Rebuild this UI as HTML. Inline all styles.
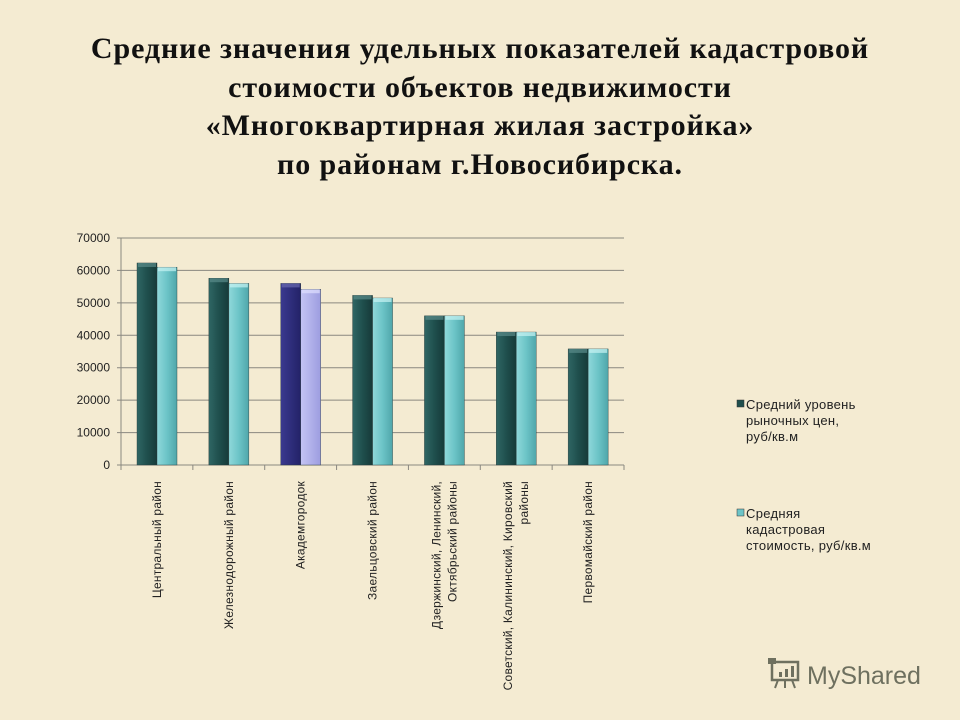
<!DOCTYPE html>
<html><head><meta charset="utf-8"><style>
body{margin:0;width:960px;height:720px;overflow:hidden;background:#f4ebd2;font-family:"Liberation Sans",sans-serif}
#title{position:absolute;left:0;top:30px;width:960px;text-align:center;font-family:"Liberation Serif",serif;font-weight:bold;font-size:30px;letter-spacing:0.9px;line-height:38.5px;color:#111}
svg{position:absolute;left:0;top:0}
</style></head><body>
<div id="title">Средние значения удельных показателей кадастровой<br>стоимости объектов недвижимости<br>«Многоквартирная жилая застройка»<br>по районам г.Новосибирска.</div>
<svg id="chart" width="960" height="720">
<defs>
<linearGradient id="gd" x1="0" x2="1"><stop offset="0" stop-color="#2f6664"/><stop offset="0.5" stop-color="#1f4f4d"/><stop offset="1" stop-color="#163a39"/></linearGradient>
<linearGradient id="gl" x1="0" x2="1"><stop offset="0" stop-color="#8fd8da"/><stop offset="0.5" stop-color="#6cc4c7"/><stop offset="1" stop-color="#4fa6aa"/></linearGradient>
<linearGradient id="gdh" x1="0" x2="1"><stop offset="0" stop-color="#3a3a90"/><stop offset="1" stop-color="#232268"/></linearGradient>
<linearGradient id="glh" x1="0" x2="1"><stop offset="0" stop-color="#c4c4f4"/><stop offset="1" stop-color="#9d9de0"/></linearGradient>
</defs>
<g>
<rect x="772" y="662" width="26" height="18" fill="none" stroke="#6e705f" stroke-width="2.5"/>
<rect x="768" y="658" width="8" height="6" fill="#6e705f"/>
<rect x="779" y="672" width="3" height="5" fill="#6e705f"/><rect x="785" y="669" width="3" height="8" fill="#6e705f"/><rect x="791" y="666" width="3" height="11" fill="#6e705f"/>
<line x1="778" y1="680" x2="775" y2="688" stroke="#6e705f" stroke-width="2"/><line x1="785" y1="680" x2="785" y2="688" stroke="#6e705f" stroke-width="2"/><line x1="792" y1="680" x2="795" y2="688" stroke="#6e705f" stroke-width="2"/>
<text x="807" y="684" font-size="25" fill="#6e705f" font-family="Liberation Sans">MyShared</text>
</g>
</svg>
<script>
const categories=["Центральный район","Железнодорожный район","Академгородок","Заельцовский район","Дзержинский, Ленинский,|Октябрьский районы","Советский, Калининский, Кировский|районы","Первомайский район"];
const marketValues=[62300,57600,56000,52300,46000,41000,35800];
const cadastralValues=[61000,56000,54200,51500,46000,41000,35800];
const yTicks=[0,10000,20000,30000,40000,50000,60000,70000];
const highlightIndex=2;
const NS="http://www.w3.org/2000/svg";
const svg=document.getElementById('chart');
const x0=121,x1=624,y0=465,y1=238,yMax=70000;
const catW=(x1-x0)/categories.length;
const y=v=>y0-(v/yMax)*(y0-y1);
const cx=i=>x0+i*catW;
function mk(t,a){const e=document.createElementNS(NS,t);for(const k in a)e.setAttribute(k,a[k]);svg.appendChild(e);return e;}
yTicks.forEach(v=>{
 const l=mk('line',{x1:117,x2:x1,y1:y(v),y2:y(v),stroke:'#8a8880','stroke-width':1});
 
 
 const t=mk('text',{x:110,y:y(v)+4,'text-anchor':'end','font-size':12,fill:'#222'});
 t.textContent=v;
 
 
});
const ax=mk('line',{x1:x0,x2:x0,y1:y1,y2:y0,stroke:'#8a8880'});


for(let i=0;i<=categories.length;i++){const tk=mk('line',{x1:cx(i),x2:cx(i),y1:y0,y2:y0+5,stroke:'#8a8880'});
 
 }
function bar(xp,v,fill,cap,name){
 const r=mk('rect',{x:xp,y:y(v),width:20,height:y0-y(v),fill:fill,stroke:'#2a3a3a','stroke-width':0.4});
 
 
 const c=mk('rect',{x:xp+1,y:y(v),width:18,height:4,fill:cap,opacity:0.7});
 
 
}
categories.forEach((c,i)=>{
 const h=i===highlightIndex;
 bar(cx(i)+16,marketValues[i],h?'url(#gdh)':'url(#gd)',h?'#6a6ab0':'#5a8c8a','bar-market');
 bar(cx(i)+36,cadastralValues[i],h?'url(#glh)':'url(#gl)',h?'#e0e0ff':'#c8f4f4','bar-cadastral');
 const lines=c.split('|');
 const mid=cx(i)+catW/2;
 lines.forEach((ln,j)=>{
  const off=(j-(lines.length-1)/2)*16+4;
  const t=mk('text',{x:0,y:0,'font-size':12,'letter-spacing':0.25,fill:'#222','text-anchor':'end',transform:`translate(${mid+off},${y0+16}) rotate(-90)`});
  t.textContent=ln;
  
  
 });
});
function legend(yy,fill,lines,name){
 const r=mk('rect',{x:737,y:yy-9,width:7,height:7,fill:fill,stroke:'#333','stroke-width':0.5});
 
 
 lines.forEach((l,j)=>{const t=mk('text',{x:746,y:yy+j*16,'font-size':13,'letter-spacing':0.3,fill:'#222'});t.textContent=l;
  
  });
}
legend(409,'#1f4f4d',['Средний уровень','рыночных цен,','руб/кв.м'],'legend-market');
legend(518,'#6cc4c7',['Средняя','кадастровая','стоимость, руб/кв.м'],'legend-cadastral');
</script>
</body></html>
